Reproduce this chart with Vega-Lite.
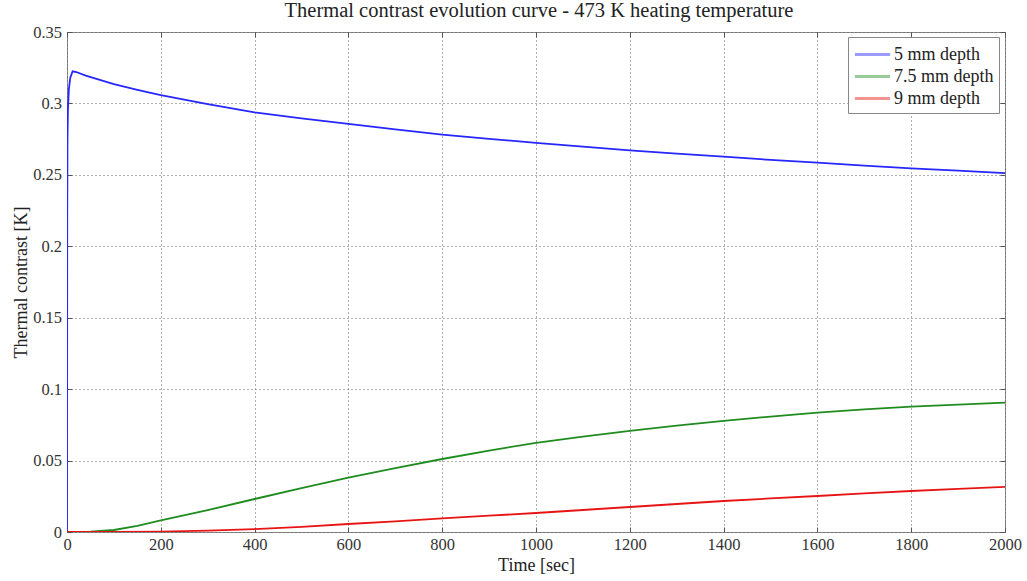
{
  "$schema": "https://vega.github.io/schema/vega-lite/v6.json",
  "width": 938,
  "height": 500,
  "autosize": "none",
  "padding": {"left": 67, "top": 32, "right": 22, "bottom": 49},
  "background": "white",
  "title": {
    "text": "Thermal contrast evolution curve - 473 K heating temperature",
    "font": "Liberation Serif",
    "fontSize": 20.5,
    "fontWeight": "normal",
    "color": "#222",
    "anchor": "middle",
    "baseline": "alphabetic",
    "offset": 3,
    "dy": 16,
    "dx": 3
  },
  "config": {
    "view": {"stroke": "#8a8a8a", "strokeWidth": 1},
    "axis": {
      "labelFont": "Liberation Serif",
      "labelFontSize": 16.5,
      "labelColor": "#333",
      "labelFlush": false,
      "titleFont": "Liberation Serif",
      "titleFontSize": 18,
      "titleFontWeight": "normal",
      "titleColor": "#222",
      "domain": false,
      "tickSize": -5,
      "tickColor": "#555",
      "gridColor": "#5e5e5e",
      "gridDash": [1, 3],
      "gridWidth": 1
    },
    "legend": {
      "orient": "none",
      "legendX": 781,
      "legendY": 5,
      "title": null,
      "symbolType": "M-1.6,0H1.6",
      "symbolSize": 484,
      "symbolStrokeWidth": 3,
      "symbolOpacity": 0.45,
      "symbolOffset": 7,
      "labelFont": "Liberation Serif",
      "labelFontSize": 18,
      "labelColor": "#222",
      "labelOffset": 9,
      "rowPadding": 0,
      "padding": 5,
      "strokeColor": "#888",
      "fillColor": "white"
    }
  },
  "data": {
    "values": [
      {"t": 0, "c": 0, "depth": "5 mm depth"},
      {"t": 0.5, "c": 0.22, "depth": "5 mm depth"},
      {"t": 1, "c": 0.275, "depth": "5 mm depth"},
      {"t": 2, "c": 0.296, "depth": "5 mm depth"},
      {"t": 4, "c": 0.31, "depth": "5 mm depth"},
      {"t": 7, "c": 0.318, "depth": "5 mm depth"},
      {"t": 12, "c": 0.3225, "depth": "5 mm depth"},
      {"t": 20, "c": 0.322, "depth": "5 mm depth"},
      {"t": 40, "c": 0.3195, "depth": "5 mm depth"},
      {"t": 100, "c": 0.3135, "depth": "5 mm depth"},
      {"t": 150, "c": 0.3095, "depth": "5 mm depth"},
      {"t": 200, "c": 0.3058, "depth": "5 mm depth"},
      {"t": 300, "c": 0.2995, "depth": "5 mm depth"},
      {"t": 400, "c": 0.2938, "depth": "5 mm depth"},
      {"t": 500, "c": 0.2895, "depth": "5 mm depth"},
      {"t": 600, "c": 0.2857, "depth": "5 mm depth"},
      {"t": 700, "c": 0.2818, "depth": "5 mm depth"},
      {"t": 800, "c": 0.2781, "depth": "5 mm depth"},
      {"t": 900, "c": 0.2752, "depth": "5 mm depth"},
      {"t": 1000, "c": 0.2724, "depth": "5 mm depth"},
      {"t": 1100, "c": 0.2697, "depth": "5 mm depth"},
      {"t": 1200, "c": 0.2671, "depth": "5 mm depth"},
      {"t": 1300, "c": 0.2648, "depth": "5 mm depth"},
      {"t": 1400, "c": 0.2627, "depth": "5 mm depth"},
      {"t": 1500, "c": 0.2605, "depth": "5 mm depth"},
      {"t": 1600, "c": 0.2585, "depth": "5 mm depth"},
      {"t": 1700, "c": 0.2565, "depth": "5 mm depth"},
      {"t": 1800, "c": 0.2546, "depth": "5 mm depth"},
      {"t": 1900, "c": 0.2529, "depth": "5 mm depth"},
      {"t": 2000, "c": 0.2512, "depth": "5 mm depth"},
      {"t": 0, "c": 0, "depth": "7.5 mm depth"},
      {"t": 50, "c": 0.0002, "depth": "7.5 mm depth"},
      {"t": 100, "c": 0.0014, "depth": "7.5 mm depth"},
      {"t": 150, "c": 0.0043, "depth": "7.5 mm depth"},
      {"t": 200, "c": 0.0082, "depth": "7.5 mm depth"},
      {"t": 300, "c": 0.0153, "depth": "7.5 mm depth"},
      {"t": 400, "c": 0.0231, "depth": "7.5 mm depth"},
      {"t": 500, "c": 0.0307, "depth": "7.5 mm depth"},
      {"t": 600, "c": 0.038, "depth": "7.5 mm depth"},
      {"t": 700, "c": 0.0447, "depth": "7.5 mm depth"},
      {"t": 800, "c": 0.0511, "depth": "7.5 mm depth"},
      {"t": 900, "c": 0.057, "depth": "7.5 mm depth"},
      {"t": 1000, "c": 0.0624, "depth": "7.5 mm depth"},
      {"t": 1100, "c": 0.0668, "depth": "7.5 mm depth"},
      {"t": 1200, "c": 0.0708, "depth": "7.5 mm depth"},
      {"t": 1300, "c": 0.0745, "depth": "7.5 mm depth"},
      {"t": 1400, "c": 0.0778, "depth": "7.5 mm depth"},
      {"t": 1500, "c": 0.0808, "depth": "7.5 mm depth"},
      {"t": 1600, "c": 0.0835, "depth": "7.5 mm depth"},
      {"t": 1700, "c": 0.0858, "depth": "7.5 mm depth"},
      {"t": 1800, "c": 0.0877, "depth": "7.5 mm depth"},
      {"t": 1900, "c": 0.0892, "depth": "7.5 mm depth"},
      {"t": 2000, "c": 0.0905, "depth": "7.5 mm depth"},
      {"t": 0, "c": 0, "depth": "9 mm depth"},
      {"t": 100, "c": 0, "depth": "9 mm depth"},
      {"t": 200, "c": 0.0003, "depth": "9 mm depth"},
      {"t": 300, "c": 0.001, "depth": "9 mm depth"},
      {"t": 400, "c": 0.002, "depth": "9 mm depth"},
      {"t": 500, "c": 0.0036, "depth": "9 mm depth"},
      {"t": 600, "c": 0.0056, "depth": "9 mm depth"},
      {"t": 700, "c": 0.0075, "depth": "9 mm depth"},
      {"t": 800, "c": 0.0096, "depth": "9 mm depth"},
      {"t": 900, "c": 0.0114, "depth": "9 mm depth"},
      {"t": 1000, "c": 0.0133, "depth": "9 mm depth"},
      {"t": 1100, "c": 0.0154, "depth": "9 mm depth"},
      {"t": 1200, "c": 0.0175, "depth": "9 mm depth"},
      {"t": 1300, "c": 0.0196, "depth": "9 mm depth"},
      {"t": 1400, "c": 0.0217, "depth": "9 mm depth"},
      {"t": 1500, "c": 0.0235, "depth": "9 mm depth"},
      {"t": 1600, "c": 0.0252, "depth": "9 mm depth"},
      {"t": 1700, "c": 0.027, "depth": "9 mm depth"},
      {"t": 1800, "c": 0.0287, "depth": "9 mm depth"},
      {"t": 1900, "c": 0.0302, "depth": "9 mm depth"},
      {"t": 2000, "c": 0.0316, "depth": "9 mm depth"}
    ]
  },
  "layer": [
    {
      "mark": {"type": "line", "strokeWidth": 1.8, "clip": true},
      "encoding": {
        "x": {
          "field": "t", "type": "quantitative",
          "scale": {"domain": [0, 2000], "nice": false, "zero": false},
          "axis": {
            "orient": "bottom",
            "title": "Time [sec]",
            "values": [0, 200, 400, 600, 800, 1000, 1200, 1400, 1600, 1800, 2000],
            "format": "d",
            "labelPadding": 9.5,
            "titlePadding": 3.5
          }
        },
        "y": {
          "field": "c", "type": "quantitative",
          "scale": {"domain": [0, 0.35], "nice": false, "zero": false},
          "axis": {
            "orient": "left",
            "title": "Thermal contrast [K]",
            "values": [0, 0.05, 0.1, 0.15, 0.2, 0.25, 0.3, 0.35],
            "format": "~g",
            "labelPadding": 10.5,
            "titlePadding": 2
          }
        },
        "color": {
          "field": "depth", "type": "nominal",
          "scale": {
            "domain": ["5 mm depth", "7.5 mm depth", "9 mm depth"],
            "range": ["#2626ff", "#1f8c1f", "#e81414"]
          },
          "legend": {}
        },
        "order": {"field": "t", "type": "quantitative"}
      }
    },
    {
      "mark": {"type": "line", "strokeOpacity": 0},
      "encoding": {
        "x": {
          "field": "t", "type": "quantitative",
          "scale": {"domain": [0, 2000], "nice": false, "zero": false},
          "axis": {
            "orient": "top", "title": null, "labels": false, "grid": false,
            "values": [0, 200, 400, 600, 800, 1000, 1200, 1400, 1600, 1800, 2000]
          }
        },
        "y": {
          "field": "c", "type": "quantitative",
          "scale": {"domain": [0, 0.35], "nice": false, "zero": false},
          "axis": {
            "orient": "right", "title": null, "labels": false, "grid": false,
            "values": [0, 0.05, 0.1, 0.15, 0.2, 0.25, 0.3, 0.35]
          }
        }
      }
    }
  ],
  "resolve": {"axis": {"x": "independent", "y": "independent"}}
}
